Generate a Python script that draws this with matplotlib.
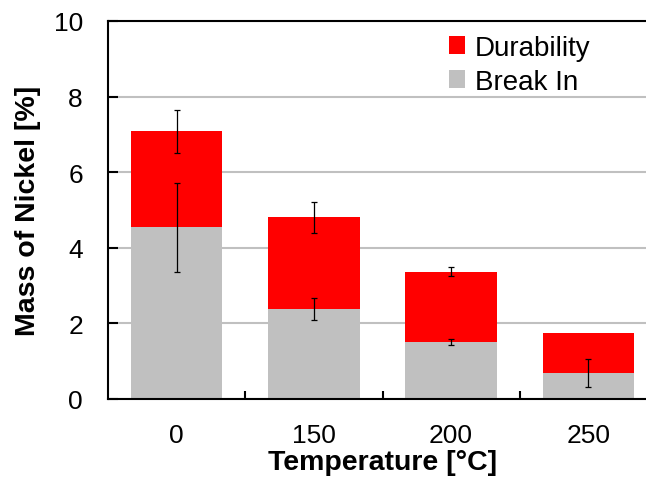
import matplotlib
matplotlib.use('Agg')
import matplotlib.pyplot as plt
import numpy as np

plt.rcParams['font.family'] = ['Liberation Sans', 'DejaVu Sans']

# temperatures and measured nickel mass (%)
temps = ['0', '150', '200', '250']
break_in = [4.54, 2.37, 1.51, 0.69]
durability = [2.54, 2.44, 1.86, 1.06]
break_in_err = [1.18, 0.29, 0.07, 0.36]
total_err = [0.57, 0.41, 0.12, 0.0]

fig = plt.figure(figsize=(6.46, 4.85), dpi=100)
ax = fig.add_axes([108 / 646, 85 / 485, 549 / 646, 378 / 485])

x = np.arange(len(temps))
w = 0.665
bi = np.array(break_in)
du = np.array(durability)
tot = bi + du

ax.bar(x, bi, w, color='#c0c0c0', label='Break In', zorder=2)
ax.bar(x, du, w, bottom=bi, color='#ff0000', label='Durability', zorder=2)

# error bars, skip the ones with no spread
ebi = np.array(break_in_err)
etot = np.array(total_err)
m1 = ebi > 0
m2 = etot > 0
ax.errorbar(x[m1], bi[m1], yerr=ebi[m1], fmt='none', ecolor='black',
            elinewidth=0.9, capsize=2, capthick=0.9, zorder=3)
ax.errorbar(x[m2], tot[m2], yerr=etot[m2], fmt='none', ecolor='black',
            elinewidth=0.9, capsize=2, capthick=0.9, zorder=3)

ax.set_xlim(-0.5, 3.5)
ax.set_ylim(0, 10)
ax.set_yticks([0, 2, 4, 6, 8, 10])
ax.yaxis.grid(True, color='#c0c0c0', linewidth=1.5, zorder=0)
ax.set_axisbelow(True)

ax.set_xticks(x)
ax.set_xticklabels(temps)
ax.set_xticks(np.arange(0.5, 3.5, 1.0), minor=True)
ax.tick_params(axis='x', which='major', length=0, pad=17.5, labelsize=19)
ax.tick_params(axis='x', which='minor', direction='in', length=6, width=1.5)
ax.tick_params(axis='y', direction='in', length=7, width=1.5, pad=18, labelsize=19)

for s in ['left', 'bottom', 'top']:
    ax.spines[s].set_linewidth(1.5)
ax.spines['right'].set_visible(False)

ax.set_xlabel('Temperature [°C]', fontsize=20.5, fontweight='bold', labelpad=1)
ax.set_ylabel('Mass of Nickel [%]', fontsize=20.5, fontweight='bold', labelpad=9)

h, l = ax.get_legend_handles_labels()
ax.legend(h[::-1], l[::-1], loc='upper left', bbox_to_anchor=(0.575, 1.03),
          frameon=False, fontsize=20, handlelength=0.6, handleheight=0.6,
          handletextpad=0.35, labelspacing=0.3)

fig.savefig('out.png', dpi=100)
